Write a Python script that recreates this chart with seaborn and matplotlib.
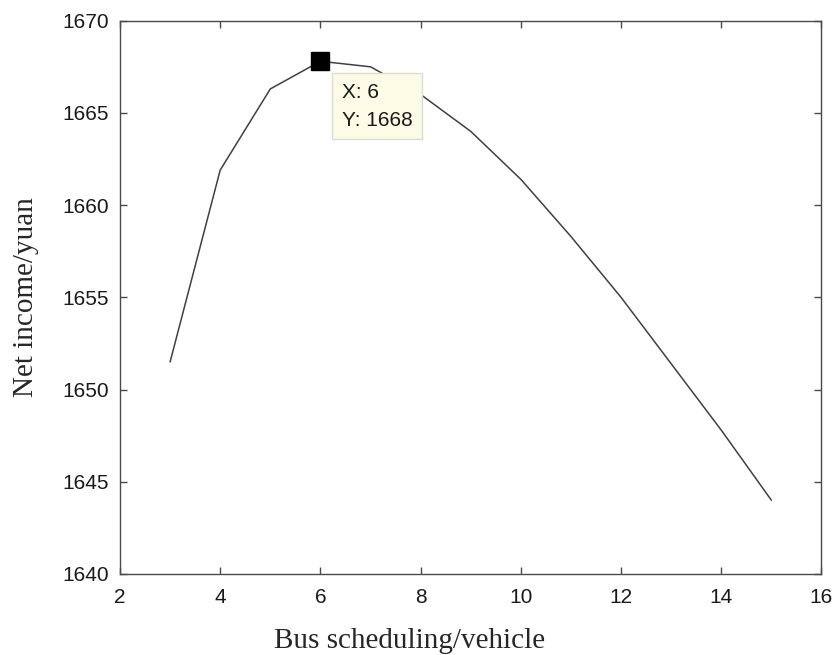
import pandas as pd
import matplotlib.pyplot as plt
import seaborn as sns

# values
bus_count = [3, 4, 5, 6, 7, 8, 9, 10, 11, 12, 13, 14, 15]
net_income = [1651.5, 1661.9, 1666.3, 1667.8, 1667.5, 1666.0, 1664.0,
              1661.4, 1658.3, 1655.0, 1651.4, 1647.8, 1644.0]
x_ticks = [2, 4, 6, 8, 10, 12, 14, 16]
y_ticks = [1640, 1645, 1650, 1655, 1660, 1665, 1670]
tip_x = 6
tip_y = 1667.8
tip_label = 'X: 6\nY: 1668'

df = pd.DataFrame({'bus': bus_count, 'income': net_income})

sns.set_style('ticks')
plt.rcParams['font.family'] = ['Liberation Sans', 'DejaVu Sans']

fig = plt.figure(figsize=(8.35, 6.55), dpi=100)
ax = fig.add_axes([0.1437, 0.1237, 0.8401, 0.8447])

sns.lineplot(data=df, x='bus', y='income', color='#404040', linewidth=1.1, ax=ax)

# data tip marker and box
ax.plot([tip_x], [tip_y], marker='s', markersize=13.5, color='black', zorder=5)
ax.annotate(tip_label, xy=(tip_x, tip_y), xytext=(15.5, -15.5), textcoords='offset points',
            ha='left', va='top', fontsize=15, linespacing=1.6, color='#1a1a1a',
            bbox=dict(boxstyle='square,pad=0.46', fc='#fbfbe6', ec='#dcdcd0', lw=1.0),
            zorder=6)

ax.set_xlim(2, 16)
ax.set_ylim(1640, 1670)
ax.set_xticks(x_ticks)
ax.set_yticks(y_ticks)

for s in ax.spines.values():
    s.set_visible(True)
    s.set_color('#4a4a4a')
    s.set_linewidth(1.0)
ax.tick_params(direction='in', length=5, width=1.0, color='#4a4a4a',
               top=True, right=True, labelsize=15, labelcolor='#1a1a1a')
ax.tick_params(axis='y', pad=8)
ax.tick_params(axis='x', pad=10)

ax.set_xlabel('Bus scheduling/vehicle', family='Liberation Serif', fontsize=21,
              labelpad=15, x=0.413)
ax.set_ylabel('Net income/yuan', family='Liberation Serif', fontsize=21, labelpad=17)

fig.savefig('out.png', dpi=100)
